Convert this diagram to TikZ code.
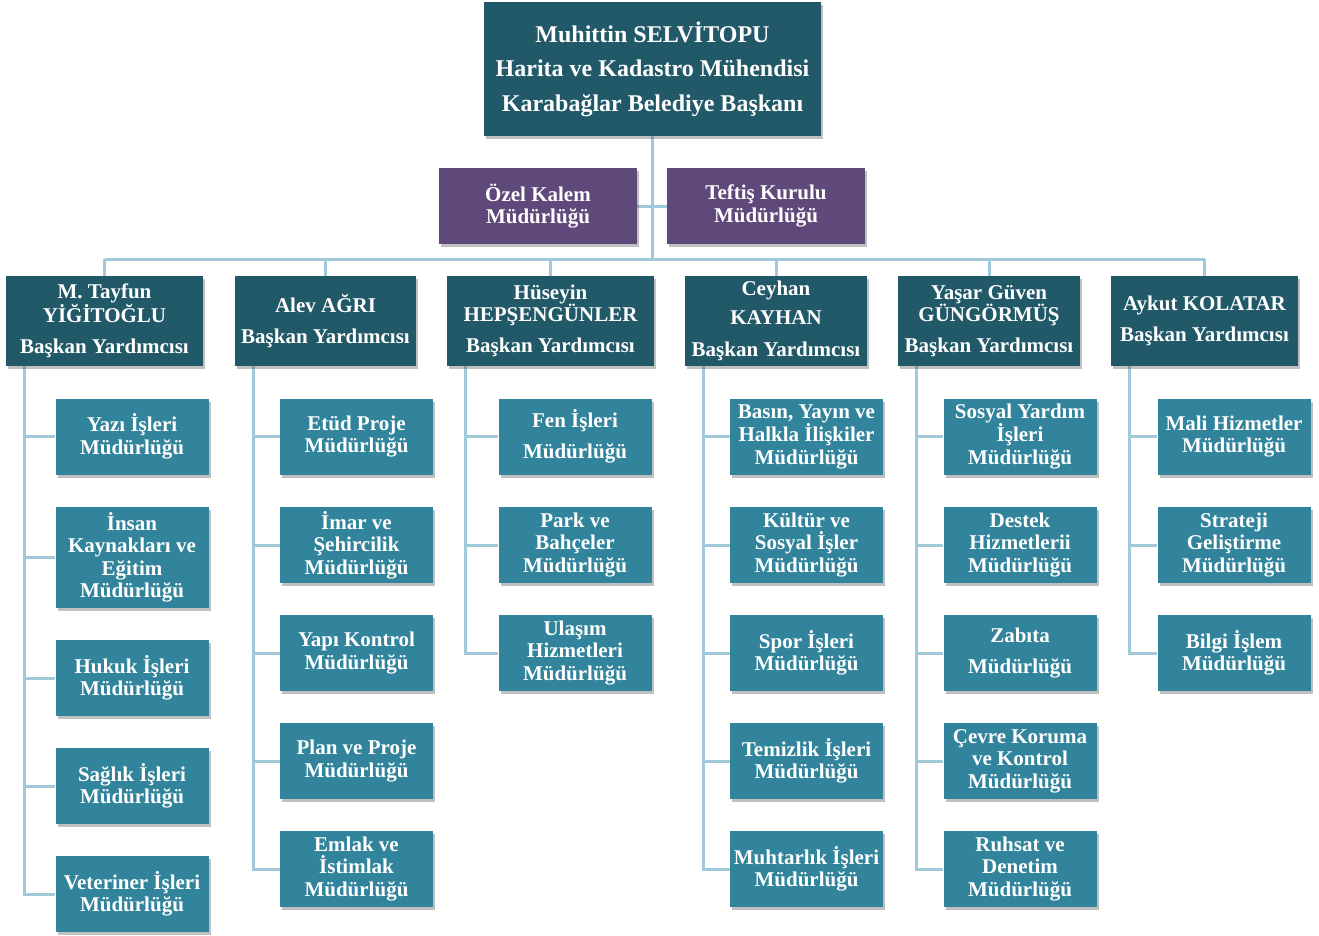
\documentclass[tikz,border=0pt]{standalone}
\usepackage{fontspec}
\setmainfont{Liberation Serif}
\usetikzlibrary{shadows}
\pgfdeclarelayer{background}
\pgfsetlayers{background,main}
\definecolor{dteal}{RGB}{33,89,104}
\definecolor{mteal}{RGB}{49,132,155}
\definecolor{purp}{RGB}{95,73,122}
\definecolor{lblue}{RGB}{160,202,218}
\begin{document}
\begin{tikzpicture}[x=1pt,y=-1pt,
  box/.style={inner sep=0pt, align=center, text=white,
    font=\bfseries\fontsize{21}{22.5}\selectfont,
    drop shadow={shadow xshift=2pt,shadow yshift=-3pt,opacity=0.35,fill=black!70}},
  head/.style={box, fill=dteal},
  unit/.style={box, fill=mteal, minimum width=153pt, minimum height=76pt},
  staff/.style={box, fill=purp, minimum width=198pt, minimum height=76pt},
  vp/.style={head, minimum height=90pt},
  link/.style={draw=lblue, line width=3pt}]
\useasboundingbox (0,0) rectangle (1319,935);

\node[head, minimum width=337pt, minimum height=134pt, font=\bfseries\fontsize{24}{34.5}\selectfont] (top) at (652.5,69)
  {Muhittin SELVİTOPU\\Harita ve Kadastro Mühendisi\\Karabağlar Belediye Başkanı};

\node[staff] (ozel) at (538,206) {Özel Kalem\\Müdürlüğü};
\node[staff] (teftis) at (766,206) {Teftiş Kurulu\\Müdürlüğü};

\node[vp, minimum width=197pt] (v1) at (104.5,321) {M. Tayfun\\YİĞİTOĞLU\\[9pt]Başkan Yardımcısı};
\node[vp, minimum width=181pt] (v2) at (325.5,321) {Alev AĞRI\\[8.5pt]Başkan Yardımcısı};
\node[vp, minimum width=207pt] (v3) at (550.5,321) {Hüseyin\\HEPŞENGÜNLER\\[8.5pt]Başkan Yardımcısı};
\node[vp, minimum width=182pt] (v4) at (776,321) {Ceyhan\\[6.5pt]KAYHAN\\[9.5pt]Başkan Yardımcısı};
\node[vp, minimum width=182pt] (v5) at (989,321) {Yaşar Güven\\GÜNGÖRMÜŞ\\[8.5pt]Başkan Yardımcısı};
\node[vp, minimum width=187pt] (v6) at (1204.5,321) {Aykut KOLATAR\\[8.5pt]Başkan Yardımcısı};

% column 1
\node[unit] (c11) at (132,436.5) {Yazı İşleri\\Müdürlüğü};
\node[unit, minimum height=101pt] (c12) at (132,557.5) {İnsan\\Kaynakları ve\\Eğitim\\Müdürlüğü};
\node[unit] (c13) at (132,678) {Hukuk İşleri\\Müdürlüğü};
\node[unit] (c14) at (132,786) {Sağlık İşleri\\Müdürlüğü};
\node[unit] (c15) at (132,894) {Veteriner İşleri\\Müdürlüğü};
% column 2
\node[unit] (c21) at (356.5,436.5) {Etüd Proje\\Müdürlüğü};
\node[unit] (c22) at (356.5,545) {İmar ve\\Şehircilik\\Müdürlüğü};
\node[unit] (c23) at (356.5,653) {Yapı Kontrol\\Müdürlüğü};
\node[unit] (c24) at (356.5,761) {Plan ve Proje\\Müdürlüğü};
\node[unit] (c25) at (356.5,869) {Emlak ve\\İstimlak\\Müdürlüğü};
% column 3
\node[unit] (c31) at (575,436.5) {Fen İşleri\\[8.5pt]Müdürlüğü};
\node[unit] (c32) at (575,545) {Park ve\\Bahçeler\\Müdürlüğü};
\node[unit] (c33) at (575,653) {Ulaşım\\Hizmetleri\\Müdürlüğü};
% column 4
\node[unit] (c41) at (806.5,436.5) {Basın, Yayın ve\\Halkla İlişkiler\\Müdürlüğü};
\node[unit] (c42) at (806.5,545) {Kültür ve\\Sosyal İşler\\Müdürlüğü};
\node[unit] (c43) at (806.5,653) {Spor İşleri\\Müdürlüğü};
\node[unit] (c44) at (806.5,761) {Temizlik İşleri\\Müdürlüğü};
\node[unit] (c45) at (806.5,869) {Muhtarlık İşleri\\Müdürlüğü};
% column 5
\node[unit] (c51) at (1020,436.5) {Sosyal Yardım\\İşleri\\Müdürlüğü};
\node[unit] (c52) at (1020,545) {Destek\\Hizmetlerii\\Müdürlüğü};
\node[unit] (c53) at (1020,653) {Zabıta\\[8.5pt]Müdürlüğü};
\node[unit] (c54) at (1020,761) {Çevre Koruma\\ve Kontrol\\Müdürlüğü};
\node[unit] (c55) at (1020,869) {Ruhsat ve\\Denetim\\Müdürlüğü};
% column 6
\node[unit] (c61) at (1234,436.5) {Mali Hizmetler\\Müdürlüğü};
\node[unit] (c62) at (1234,545) {Strateji\\Geliştirme\\Müdürlüğü};
\node[unit] (c63) at (1234,653) {Bilgi İşlem\\Müdürlüğü};

\begin{pgfonlayer}{background}
\fill[white] (0,0) rectangle (1319,935);
\coordinate (bus) at (652.5,259);
\draw[link] (top.south) -- (bus);
\draw[link] (ozel.east) -- (teftis.west);
\draw[link] (v1.north |- bus) -- (v6.north |- bus);
\foreach \v in {v1,v2,v3,v4,v5,v6} \draw[link] (\v.north |- bus) -- (\v.north);
\foreach \v/\n in {v1/s1,v2/s2,v3/s3,v4/s4,v5/s5,v6/s6}
  \coordinate (\n) at ([xshift=19pt]\v.south west);
\draw[link] (s1) |- (c15.west);
\foreach \c in {c11,c12,c13,c14} \draw[link] (s1 |- \c.west) -- (\c.west);
\draw[link] (s2) |- (c25.west);
\foreach \c in {c21,c22,c23,c24} \draw[link] (s2 |- \c.west) -- (\c.west);
\draw[link] (s3) |- (c33.west);
\foreach \c in {c31,c32} \draw[link] (s3 |- \c.west) -- (\c.west);
\draw[link] (s4) |- (c45.west);
\foreach \c in {c41,c42,c43,c44} \draw[link] (s4 |- \c.west) -- (\c.west);
\draw[link] (s5) |- (c55.west);
\foreach \c in {c51,c52,c53,c54} \draw[link] (s5 |- \c.west) -- (\c.west);
\draw[link] (s6) |- (c63.west);
\foreach \c in {c61,c62} \draw[link] (s6 |- \c.west) -- (\c.west);
\end{pgfonlayer}
\end{tikzpicture}
\end{document}
